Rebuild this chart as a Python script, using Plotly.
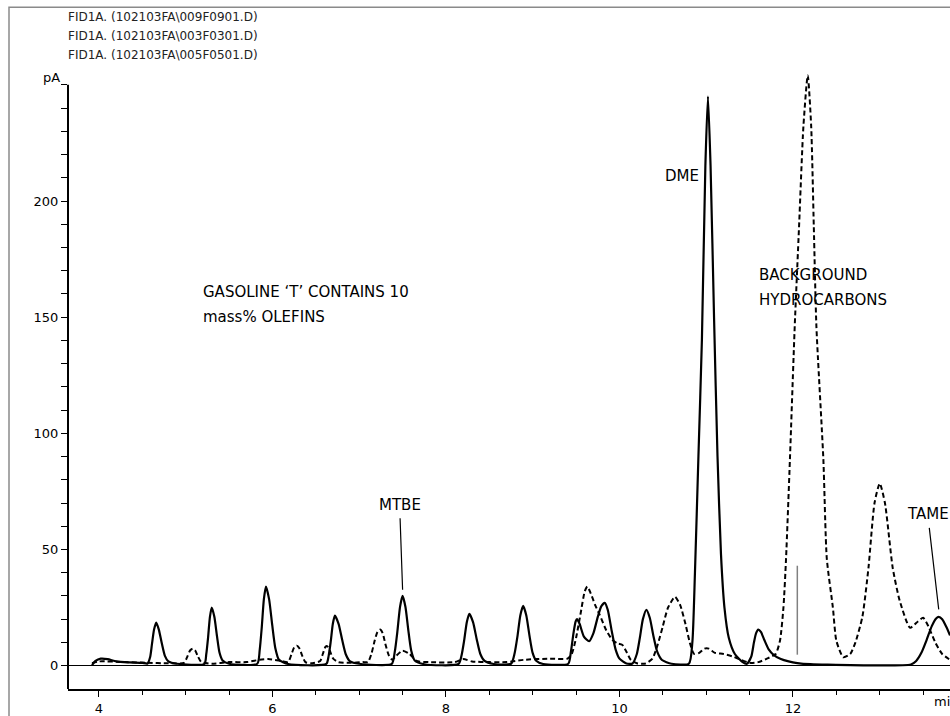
import plotly.graph_objects as go

# ---------------- data ----------------
sample_time = [3.92, 3.96, 4.02, 4.10, 4.20, 4.35, 4.50,
               4.56, 4.59, 4.61, 4.635, 4.66, 4.69, 4.725, 4.76, 4.80, 4.90,
               5.215, 5.237, 5.258, 5.279, 5.30, 5.33, 5.36, 5.39, 5.425, 5.50,
               5.825, 5.853, 5.877, 5.901, 5.925, 5.961, 5.997, 6.033, 6.075, 6.18,
               6.62, 6.648, 6.672, 6.696, 6.72, 6.762, 6.804, 6.846, 6.895, 7.00,
               7.375, 7.41, 7.44, 7.47, 7.50, 7.533, 7.566, 7.599, 7.64, 7.75,
               8.145, 8.18, 8.21, 8.24, 8.27, 8.312, 8.354, 8.396, 8.445, 8.55,
               8.75, 8.79, 8.824, 8.857, 8.89, 8.926, 8.962, 8.998, 9.04, 9.12,
               9.41, 9.44, 9.47, 9.495, 9.51, 9.54, 9.59, 9.65, 9.70, 9.75, 9.79, 9.83, 9.865, 9.91, 9.955, 10.00, 10.08,
               10.15, 10.20, 10.235, 10.27, 10.31, 10.35, 10.39, 10.435, 10.49, 10.60,
               10.80, 10.84, 10.87, 10.91, 10.95, 10.99, 11.02, 11.05, 11.09, 11.13, 11.17, 11.21, 11.26, 11.33, 11.42, 11.47,
               11.52, 11.55, 11.575, 11.60, 11.63, 11.67, 11.72, 11.78, 11.86, 11.95, 12.05, 12.20, 12.40,
               13.36, 13.42, 13.48, 13.54, 13.60, 13.65, 13.68, 13.72, 13.77, 13.81]
sample_signal = [0.2, 2.0, 3.0, 2.8, 1.8, 1.4, 1.2,
                 0.9, 3.7, 9, 15.5, 18.5, 15.5, 9.5, 4.2, 1.8, 0.8,
                 0.7, 5, 12.2, 21, 25, 21, 12.8, 5.5, 2.2, 0.8,
                 0.8, 6.8, 16.7, 28.6, 34, 28.6, 17.5, 7.5, 2.5, 0.7,
                 0.7, 4.3, 10.5, 18, 21.5, 18, 11, 4.8, 1.8, 0.8,
                 0.7, 6, 14.7, 25.2, 30, 25.2, 15.2, 6.5, 2.2, 0.6,
                 0.7, 4.5, 10.9, 18.7, 22.3, 18.7, 11.4, 5, 2, 0.7,
                 0.8, 5.1, 12.6, 21.6, 25.7, 21.6, 13, 5.6, 2.1, 0.7,
                 0.8, 6, 14, 19, 20, 18, 12.5, 10.5, 14, 21, 25.5, 27, 24, 15, 7, 3, 0.9,
                 0.9, 5, 12, 20, 24, 20.5, 13, 6, 2.4, 0.8,
                 0.8, 10, 40, 90, 140, 215, 245, 215, 150, 90, 48, 25, 12, 5, 1.5, 0.8,
                 4, 10, 14, 15.5, 14.5, 11, 7, 4.5, 2.8, 1.8, 1.1, 0.6, 0.4,
                 0.5, 2, 5.5, 11, 17, 20.3, 21, 20, 16.5, 13]

reference_time = [3.92, 4.00, 4.30, 4.55, 4.80, 4.98, 5.02, 5.05, 5.08, 5.11, 5.14, 5.18, 5.30,
                  5.50, 5.70, 5.85, 5.95, 6.10, 6.18, 6.22, 6.25, 6.28, 6.31, 6.34, 6.38, 6.46,
                  6.55, 6.58, 6.61, 6.63, 6.66, 6.70, 6.76, 6.90, 7.04,
                  7.10, 7.14, 7.18, 7.21, 7.24, 7.27, 7.30, 7.34, 7.38,
                  7.42, 7.50, 7.58, 7.66, 7.80, 8.10, 8.20, 8.30, 8.50, 8.70, 8.90, 9.20,
                  9.40, 9.45, 9.50, 9.55, 9.60, 9.63, 9.67, 9.72, 9.77, 9.85, 9.92, 9.98, 10.03, 10.08, 10.13, 10.20,
                  10.30, 10.38, 10.44, 10.50, 10.56, 10.64, 10.70, 10.76, 10.81, 10.86, 10.92, 10.98, 11.03,
                  11.10, 11.20, 11.30, 11.40, 11.50, 11.60, 11.70,
                  11.80, 11.85, 11.89, 11.92, 11.965, 12.02, 12.07, 12.12, 12.17, 12.21, 12.24,
                  12.27, 12.35, 12.39, 12.46, 12.50, 12.58, 12.66, 12.72, 12.80, 12.87, 12.94,
                  13.00, 13.06, 13.15, 13.23, 13.35, 13.44, 13.50, 13.56, 13.64, 13.72, 13.81]
reference_signal = [1.0, 1.8, 1.5, 1.2, 1.0, 1.2, 4, 6.5, 7.3, 6.5, 4, 1.5, 0.8,
                    1.5, 1.5, 2.5, 2.8, 2.0, 1.5, 5, 7.8, 8.6, 7.5, 4.5, 1.5, 1.0,
                    2, 5, 8, 8.4, 6.5, 3, 1.5, 1.2, 1.5,
                    1.5, 5, 11, 14.5, 15.5, 14, 9.5, 4.5, 2.5,
                    4, 6.4, 5, 2, 1.5, 1.5, 2.8, 1.8, 1.5, 1.5, 2.5, 3,
                    3, 5, 12, 22, 32, 34, 31, 26, 22, 15, 11, 9.5, 9, 6, 2.5, 1,
                    0.9, 3, 9, 17, 25, 29.6, 26, 18, 10, 5, 5.5, 7.3, 7.3,
                    5.5, 5, 4, 2.5, 1.2, 1.5, 3,
                    5, 10.7, 25, 46, 89, 146, 189, 232, 254, 232, 189,
                    146, 89, 46, 25, 10.7, 3.6, 5, 10, 21, 42, 70,
                    78.4, 70, 42, 28, 16.3, 19, 20.6, 17, 10, 5, 2.5]

event_time = [12.05, 12.05]
event_signal = [4.7, 43]

file_labels = ["FID1A. (102103FA\\009F0901.D)",
               "FID1A. (102103FA\\003F0301.D)",
               "FID1A. (102103FA\\005F0501.D)"]

peak_names = ["MTBE", "TAME"]
peak_time = [7.50, 13.68]
peak_tip = [32.7, 24.2]

x_tick_vals = [4, 6, 8, 10, 12]
y_tick_vals = [0, 50, 100, 150, 200, 250]
y_tick_text = ["0", "50", "100", "150", "200", ""]
y_unit = "pA"

X_RANGE = [3.643, 13.81]
Y_RANGE = [-10.07, 256.4]

FONT = "DejaVu Sans, Verdana, sans-serif"

# plot area in pixels
L, R, T, B = 68, 0, 70, 24
W, H = 950, 716
PW, PH = W - L - R, H - T - B


def px(xp):
    return (xp - L) / PW


def py(yp):
    return (H - B - yp) / PH


fig = go.Figure()
fig.add_trace(go.Scatter(x=reference_time, y=reference_signal, mode="lines",
                         line=dict(color="black", width=2, dash="5px,3px", shape="spline", smoothing=0.6),
                         hoverinfo="skip", showlegend=False))
fig.add_trace(go.Scatter(x=sample_time, y=sample_signal, mode="lines",
                         line=dict(color="black", width=2.2, shape="spline", smoothing=0.6),
                         hoverinfo="skip", showlegend=False))
fig.add_trace(go.Scatter(x=event_time, y=event_signal, mode="lines",
                         line=dict(color="#808080", width=1.5),
                         hoverinfo="skip", showlegend=False))

# y axis line (drawn only up to the pA tick)
fig.add_shape(type="line", xref="paper", yref="y", x0=0, x1=0, y0=Y_RANGE[0], y1=y_tick_vals[-1],
              line=dict(color="black", width=2))
# outer frame
fig.add_shape(type="rect", xref="paper", yref="paper", x0=px(9), x1=px(1000), y0=py(760), y1=py(7),
              line=dict(color="#8a8a8a", width=1.5), layer="below")

annotations = []
for i, lab in enumerate(file_labels):
    annotations.append(dict(xref="paper", yref="paper", x=px(66), y=py(17 + 19 * i), text=lab,
                            showarrow=False, xanchor="left", yanchor="middle",
                            font=dict(family=FONT, size=12, color="#222")))

annotations.append(dict(xref="paper", yref="y", x=px(62), y=y_tick_vals[-1], text=y_unit,
                        showarrow=False, xanchor="right", yanchor="bottom", yshift=-2,
                        font=dict(family=FONT, size=13, color="black")))

offsets = [(-3, -85), (-11, -95)]
for name, t, tip, (ax, ay) in zip(peak_names, peak_time, peak_tip, offsets):
    annotations.append(dict(x=t, y=tip, text=name, showarrow=True, arrowhead=0, arrowwidth=1.2,
                            arrowcolor="black", ax=ax, ay=ay, borderpad=4,
                            font=dict(family=FONT, size=15, color="black")))

annotations.append(dict(x=10.72, y=210.6, text="DME", showarrow=False,
                        font=dict(family=FONT, size=15, color="black")))
annotations.append(dict(xref="paper", yref="paper", x=px(757), y=py(276), text="BACKGROUND",
                        showarrow=False, xanchor="left", yanchor="middle",
                        font=dict(family=FONT, size=15, color="black")))
annotations.append(dict(xref="paper", yref="paper", x=px(757), y=py(301), text="HYDROCARBONS",
                        showarrow=False, xanchor="left", yanchor="middle",
                        font=dict(family=FONT, size=15, color="black")))
annotations.append(dict(xref="paper", yref="paper", x=px(201), y=py(293), text="GASOLINE \u2018T\u2019 CONTAINS 10",
                        showarrow=False, xanchor="left", yanchor="middle",
                        font=dict(family=FONT, size=15, color="black")))
annotations.append(dict(xref="paper", yref="paper", x=px(201), y=py(318), text="mass% OLEFINS",
                        showarrow=False, xanchor="left", yanchor="middle",
                        font=dict(family=FONT, size=15, color="black")))
annotations.append(dict(xref="paper", yref="paper", x=px(932), y=py(705), text="min",
                        showarrow=False, xanchor="left", yanchor="middle",
                        font=dict(family=FONT, size=13, color="black")))

fig.update_layout(
    width=W, height=H,
    margin=dict(l=L, r=R, t=T, b=B),
    paper_bgcolor="white", plot_bgcolor="white",
    annotations=annotations,
    xaxis=dict(range=X_RANGE, tickvals=x_tick_vals, ticks="outside", ticklen=6, tickwidth=1,
               tickcolor="black", showline=True, linecolor="black", linewidth=2,
               showgrid=False, zeroline=False,
               minor=dict(dtick=0.5, ticks="outside", ticklen=4, tickcolor="black"),
               tickfont=dict(family=FONT, size=13, color="black")),
    yaxis=dict(range=Y_RANGE, tickvals=y_tick_vals, ticktext=y_tick_text, ticks="outside", ticklen=6,
               tickwidth=1, tickcolor="black", showline=False, showgrid=False,
               zeroline=True, zerolinecolor="black", zerolinewidth=1.2,
               minor=dict(tickvals=list(range(10, 250, 10)), ticks="outside", ticklen=6, tickcolor="black"),
               tickfont=dict(family=FONT, size=13, color="black")),
)

fig.write_html("out.html")
